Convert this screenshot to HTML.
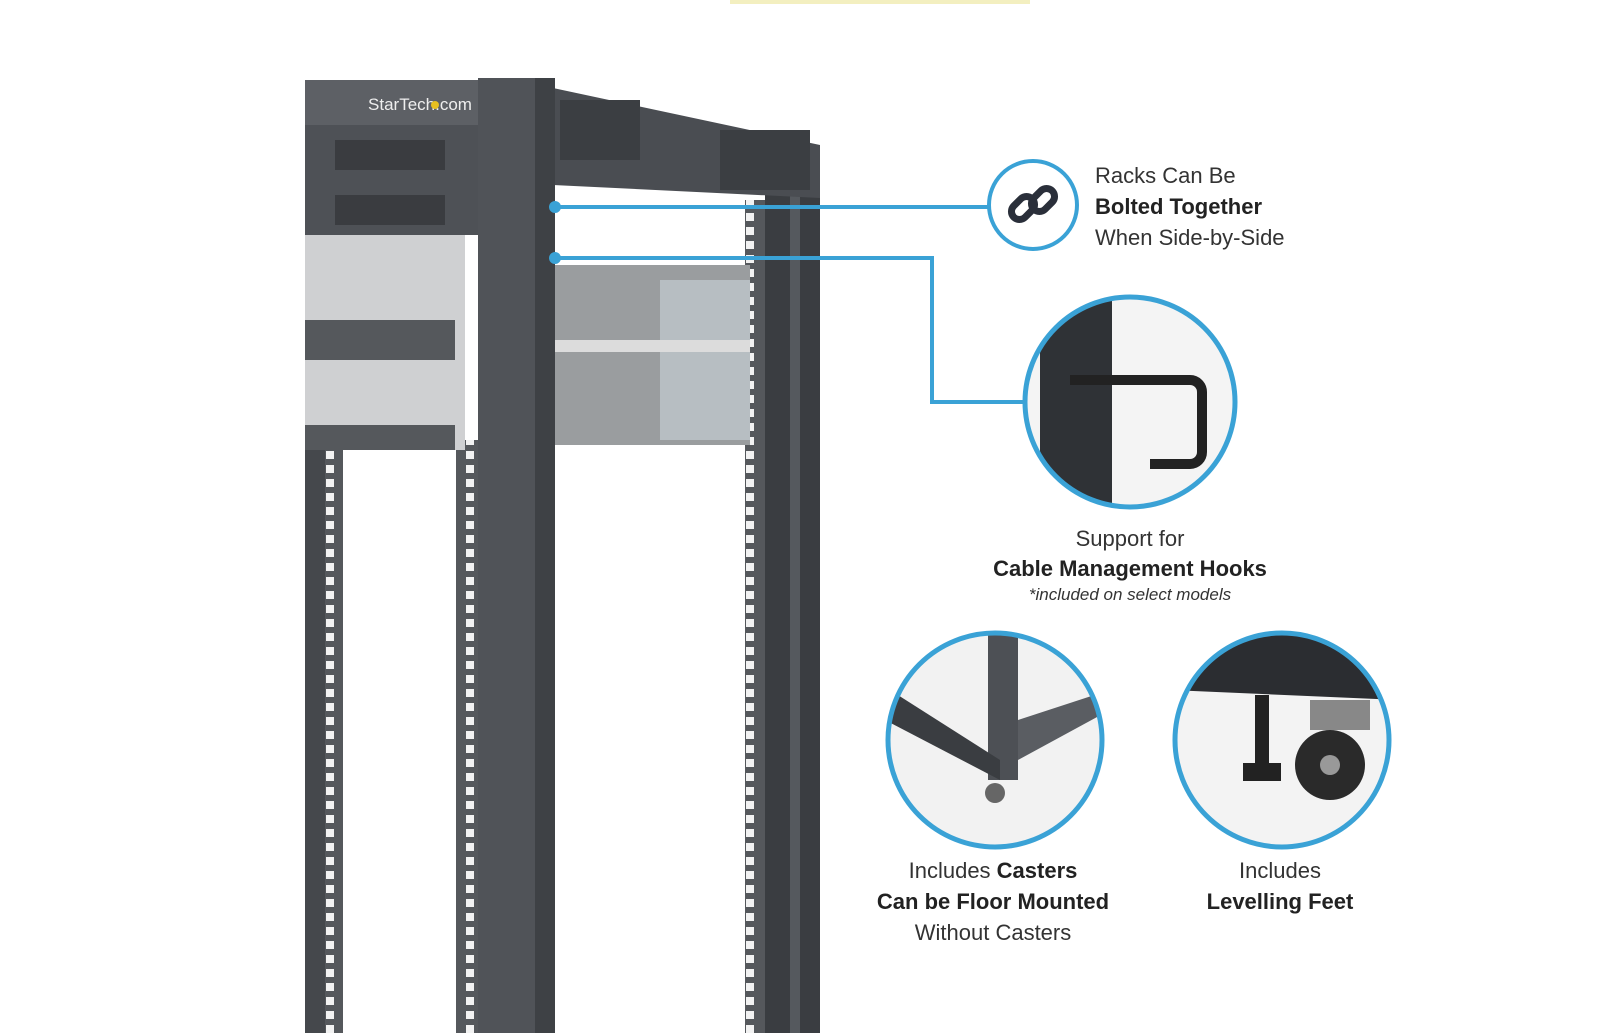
<!DOCTYPE html>
<html><head><meta charset="utf-8"><style>
body{margin:0;width:1600px;height:1033px;background:#fff;overflow:hidden;position:relative;font-family:"Liberation Sans",sans-serif}
.t{position:absolute;color:#333;font-size:22px;white-space:nowrap;text-align:center}
b{font-weight:bold;color:#222}
</style></head><body>
<svg width="1600" height="1033" style="position:absolute;left:0;top:0">
<defs>
<pattern id="holes" width="20" height="14" patternUnits="userSpaceOnUse"><rect width="20" height="14" fill="#55585c"/><rect x="6" y="3" width="8" height="8" fill="#f2f2f2"/></pattern>
</defs>
<rect x="730" y="0" width="300" height="4" fill="#f3efc0"/>
<!-- left post -->
<rect x="305" y="440" width="36" height="593" fill="#45484c"/>
<rect x="325" y="450" width="18" height="583" fill="url(#holes)"/>
<!-- inner rail -->
<rect x="456" y="440" width="22" height="593" fill="url(#holes)"/>
<!-- back post -->
<rect x="745" y="200" width="20" height="833" fill="url(#holes)"/>
<rect x="765" y="145" width="55" height="888" fill="#3a3d41"/>
<rect x="790" y="145" width="10" height="888" fill="#55595e"/>
<!-- top crossbar -->
<polygon points="553,88 820,145 820,198 553,185" fill="#4a4d52"/>
<rect x="560" y="100" width="80" height="60" fill="#3b3e42"/>
<rect x="720" y="130" width="90" height="60" fill="#3b3e42"/>
<!-- equipment -->
<rect x="305" y="80" width="175" height="55" fill="#5d6065"/>
<text x="420" y="110" font-size="17" fill="#eee" text-anchor="middle" font-family="Liberation Sans">StarTech.com</text>
<circle cx="435" cy="105" r="4" fill="#e8c020"/>
<rect x="305" y="125" width="175" height="110" fill="#4e5156"/>
<rect x="335" y="140" width="110" height="30" fill="#3a3c40"/>
<rect x="335" y="195" width="110" height="30" fill="#3a3c40"/>
<rect x="305" y="235" width="160" height="215" fill="#cfd0d2"/>
<rect x="305" y="320" width="150" height="40" fill="#55585c"/>
<rect x="305" y="425" width="150" height="25" fill="#55585c"/>
<rect x="555" y="265" width="195" height="180" fill="#9a9d9f"/>
<rect x="660" y="280" width="90" height="160" fill="#b7bec2"/>
<rect x="555" y="340" width="195" height="12" fill="#dcdcdc"/>
<!-- front post -->
<rect x="478" y="78" width="77" height="955" fill="#505358"/>
<rect x="535" y="78" width="20" height="955" fill="#3e4145"/>
<!-- blue lines -->
<g stroke="#3aa2d6" stroke-width="4" fill="none">
<line x1="555" y1="207" x2="990" y2="207"/>
<polyline points="555,258 932,258 932,402 1024,402"/>
<circle cx="1033" cy="205" r="44"/>
</g>
<circle cx="555" cy="207" r="6" fill="#3aa2d6"/><circle cx="555" cy="258" r="6" fill="#3aa2d6"/>
<!-- link icon -->
<g stroke="#2a2f3a" stroke-width="7" fill="none" stroke-linecap="round">
<rect x="1010" y="200" width="26" height="16" rx="8" transform="rotate(-45 1023 208)"/>
<rect x="1030" y="192" width="26" height="16" rx="8" transform="rotate(-45 1043 200)"/>
</g>
<!-- hook circle -->
<clipPath id="c1"><circle cx="1130" cy="402" r="104"/></clipPath>
<g clip-path="url(#c1)"><rect x="1020" y="290" width="220" height="220" fill="#f4f4f4"/><rect x="1040" y="290" width="72" height="220" fill="#2f3236"/>
<path d="M1070 380 h120 a12 12 0 0 1 12 12 v60 a12 12 0 0 1 -12 12 h-40" stroke="#222" stroke-width="10" fill="none"/></g>
<circle cx="1130" cy="402" r="105" stroke="#3aa2d6" stroke-width="5" fill="none"/>
<!-- casters -->
<clipPath id="c2"><circle cx="995" cy="740" r="106"/></clipPath>
<g clip-path="url(#c2)"><rect x="880" y="630" width="230" height="220" fill="#f2f2f2"/>
<rect x="988" y="630" width="30" height="150" fill="#4d5055"/><polygon points="890,690 1000,760 1000,780 885,720" fill="#3a3d41"/><polygon points="1018,720 1110,690 1110,710 1018,760" fill="#5a5d62"/><circle cx="995" cy="793" r="10" fill="#666"/></g>
<circle cx="995" cy="740" r="107" stroke="#3aa2d6" stroke-width="5" fill="none"/>
<!-- feet -->
<clipPath id="c3"><circle cx="1282" cy="740" r="106"/></clipPath>
<g clip-path="url(#c3)"><rect x="1170" y="630" width="230" height="220" fill="#f3f3f3"/>
<polygon points="1170,630 1400,630 1400,700 1170,690" fill="#2b2d31"/><rect x="1255" y="695" width="14" height="70" fill="#222"/><rect x="1243" y="763" width="38" height="18" fill="#222"/>
<circle cx="1330" cy="765" r="35" fill="#2a2a2a"/><circle cx="1330" cy="765" r="10" fill="#999"/><rect x="1310" y="700" width="60" height="30" fill="#888"/></g>
<circle cx="1282" cy="740" r="107" stroke="#3aa2d6" stroke-width="5" fill="none"/>
</svg>
<div class="t" style="left:1095px;top:160px;text-align:left;line-height:31px">Racks Can Be<br><b>Bolted Together</b><br>When Side-by-Side</div>
<div class="t" style="left:980px;top:524px;width:300px;line-height:30px">Support for<br><b>Cable Management Hooks</b></div>
<div class="t" style="left:980px;top:585px;width:300px;font-size:17px;font-style:italic">*included on select models</div>
<div class="t" style="left:843px;top:855px;width:300px;line-height:31px">Includes <b>Casters</b><br><b>Can be Floor Mounted</b><br>Without Casters</div>
<div class="t" style="left:1130px;top:855px;width:300px;line-height:31px">Includes<br><b>Levelling Feet</b></div>
</body></html>
